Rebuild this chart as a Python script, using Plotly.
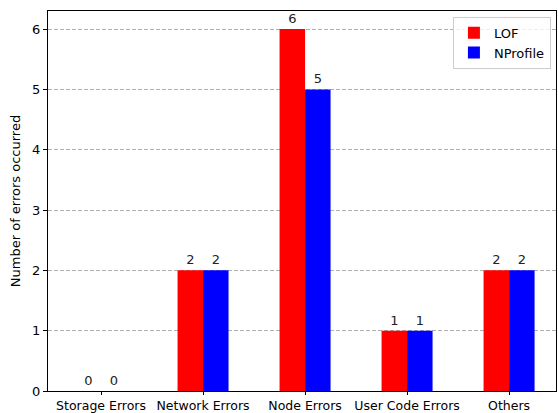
import plotly.graph_objects as go

categories = ["Storage Errors", "Network Errors", "Node Errors", "User Code Errors", "Others"]
lof = [0, 2, 6, 1, 2]
nprofile = [0, 2, 5, 1, 2]
yticks = [0, 1, 2, 3, 4, 5, 6]

fig = go.Figure()
fig.add_trace(go.Bar(x=categories, y=lof, name="LOF", marker=dict(color="#ff0000", line=dict(width=0)),
                     text=[str(v) for v in lof], textposition="outside", cliponaxis=False,
                     textfont=dict(size=13, color="#222222")))
fig.add_trace(go.Bar(x=categories, y=nprofile, name="NProfile", marker=dict(color="#0000ff", line=dict(width=0)),
                     text=[str(v) for v in nprofile], textposition="outside", cliponaxis=False,
                     textfont=dict(size=13, color="#222222")))

fig.update_layout(
    width=558, height=413,
    margin=dict(l=48, r=2, t=11, b=22, autoexpand=False),
    barmode="group", bargap=0.5, bargroupgap=0,
    plot_bgcolor="white", paper_bgcolor="white",
    font=dict(family="DejaVu Sans", size=12, color="black"),
    showlegend=True,
    legend=dict(x=0.99, y=0.985, xanchor="right", yanchor="top",
                bordercolor="#cccccc", borderwidth=1, bgcolor="rgba(255,255,255,0.8)",
                font=dict(size=13), tracegroupgap=4),
    uniformtext=dict(minsize=8, mode="show"),
)
fig.update_xaxes(range=[-0.52, 4.46], showline=True, linecolor="black", linewidth=1, mirror=True,
                 ticks="outside", ticklen=3, tickcolor="black", showgrid=False,
                 tickfont=dict(size=12.5))
fig.update_yaxes(range=[0, 6.3], tickvals=yticks, showline=True, linecolor="black", linewidth=1, mirror=True,
                 ticks="outside", ticklen=4, tickcolor="black",
                 showgrid=True, gridcolor="#b0b0b0", griddash="4px,2px", gridwidth=1,
                 zeroline=False, tickfont=dict(size=13),
                 title=dict(text="Number of errors occurred", font=dict(size=13), standoff=8))

fig.write_html("out.html", config={"displayModeBar": False},
               post_script="document.body.style.margin='0';document.body.style.overflow='hidden';")
